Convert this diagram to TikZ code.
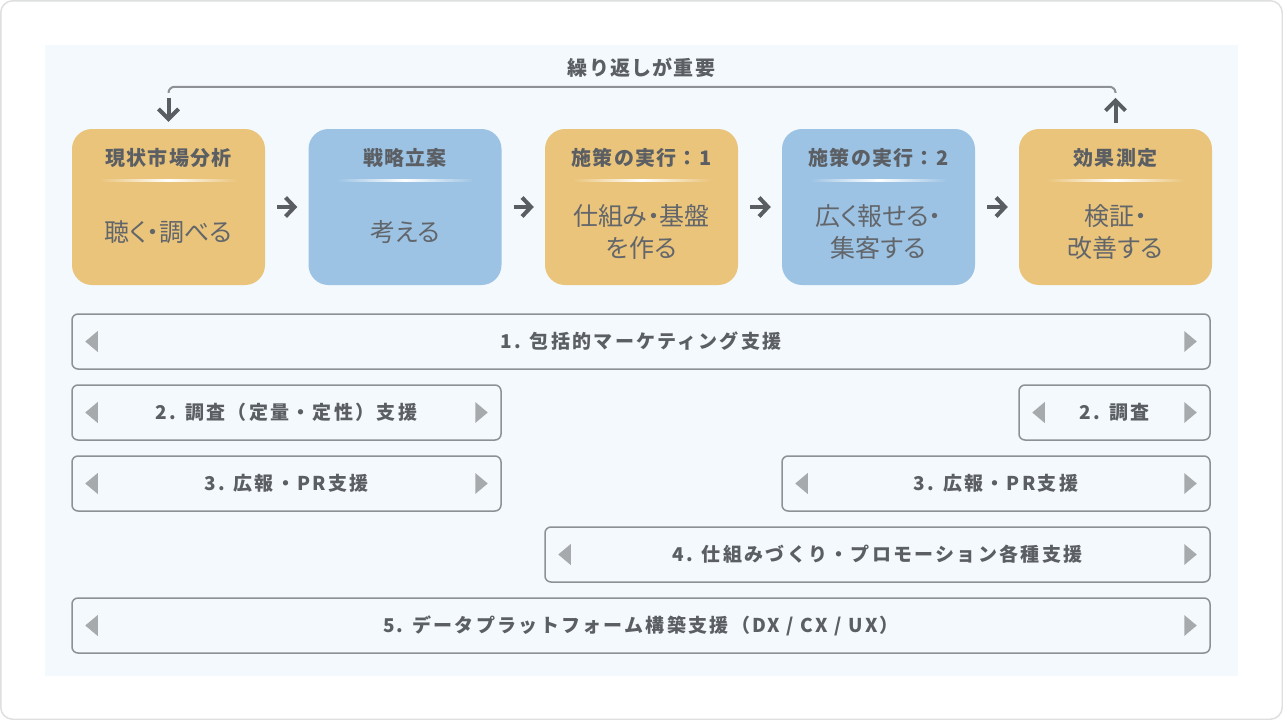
\documentclass[tikz,border=0pt]{standalone}
\usepackage{fontspec}
\setmainfont{Noto Sans CJK JP}
\newfontfamily\tfont[LetterSpace=6]{Noto Sans CJK JP}
\newfontfamily\bfont[LetterSpace=12]{Noto Sans CJK JP}
\newfontfamily\dfont[RawFeature=+palt]{Noto Sans CJK JP}
\usetikzlibrary{arrows.meta,calc}
\definecolor{panel}{HTML}{F4F9FD}
\definecolor{frame}{HTML}{DEDFE0}
\definecolor{org}{HTML}{EAC47B}
\definecolor{blu}{HTML}{9CC3E4}
\definecolor{txt}{HTML}{5B5F64}
\definecolor{dtxt}{HTML}{62666B}
\definecolor{barline}{HTML}{8D9195}
\definecolor{tri}{HTML}{A7AAAD}
\definecolor{arr}{HTML}{5A5E62}
\definecolor{loopline}{HTML}{8E9296}
\tikzset{
  stagebox/.style={rounded corners=20pt, minimum width=193pt, minimum height=156pt, inner sep=0pt, draw=none},
  stagetitle/.style={font=\tfont\bfseries\fontsize{20pt}{24pt}\selectfont, text=txt, inner sep=0pt},
  stagebody/.style={font=\dfont\fontsize{25pt}{32pt}\selectfont, text=dtxt, align=center, inner sep=0pt},
  barbox/.style={rounded corners=6pt, minimum height=55pt, inner sep=0pt, draw=barline, line width=1.5pt, fill=panel,
    font=\bfont\bfseries\fontsize{19pt}{22pt}\selectfont, text=txt},
  flow/.style={draw=arr, line width=4pt, -{Straight Barb[length=9pt,width=19pt,line width=4pt]}},
  looparr/.style={draw=arr, line width=4pt, -{Straight Barb[length=10pt,width=20pt,line width=4pt]}},
  loopline/.style={draw=loopline, line width=2pt, rounded corners=6pt},
  looplabel/.style={font=\tfont\bfseries\fontsize{20pt}{24pt}\selectfont, text=txt, inner sep=0pt}
}
\begin{document}
\begin{tikzpicture}[x=1pt,y=-1pt]
\useasboundingbox (0,0) rectangle (1283,720);
\draw[frame, line width=1.5pt, rounded corners=12pt, fill=white] (0.75,0.75) rectangle (1282.25,719.25);
\fill[panel] (45,45) rectangle (1238,676);

% stages
\foreach \n/\x/\c in {1/168.5/org, 2/405/blu, 3/641.5/org, 4/878.5/blu, 5/1115.5/org}{
  \node[stagebox, fill=\c] (b\n) at (\x,207) {};
  \shade[left color=\c, right color=\c, middle color=white]
     ($(b\n.north west)+(28,51)$) rectangle ($(b\n.north east)+(-28,53)$);
}
\node[stagetitle] (t1) at ($(b1.north)+(0,29)$) {現状市場分析};
\node[stagetitle] (t2) at ($(b2.north)+(0,29)$) {戦略立案};
\node[stagetitle] (t3) at ($(b3.north)+(0,29)$) {施策の実行：1};
\node[stagetitle] (t4) at ($(b4.north)+(0,29)$) {施策の実行：2};
\node[stagetitle] (t5) at ($(b5.north)+(0,29)$) {効果測定};
\node[stagebody] (d1) at ($(b1.center)+(0,25)$) {聴く・調べる};
\node[stagebody] (d2) at ($(b2.center)+(0,25)$) {考える};
\node[stagebody] (d3) at ($(b3.center)+(0,25)$) {仕組み・基盤\\を作る};
\node[stagebody] (d4) at ($(b4.center)+(0,25)$) {広く報せる・\\集客する};
\node[stagebody] (d5) at ($(b5.center)+(0,25)$) {検証・\\改善する};

% flow arrows
\foreach \a/\b in {1/2,2/3,3/4,4/5}{
  \draw[flow, shorten <=12pt, shorten >=11pt] (b\a.east) -- (b\b.west);
}

% loop
\coordinate (ltop) at ([yshift=31pt]b1.north);
\coordinate (ltip) at ([yshift=7pt]b1.north);
\coordinate (rtop) at ([yshift=31pt]b5.north);
\coordinate (rbot) at ([yshift=6pt]b5.north);
\draw[loopline] ([yshift=37pt]b1.north) -- ([yshift=42pt]b1.north) -- ([yshift=42pt]b5.north) -- ([yshift=37pt]b5.north);
\draw[looparr] (ltop) -- (ltip);
\draw[looparr] (rbot) -- (rtop);
\node[looplabel] (lbl) at (641.5,68) {繰り返しが重要};

% bars
\node[barbox, minimum width=1138pt] (r1) at (641,341.5) {1. 包括的マーケティング支援};
\node[barbox, minimum width=429pt] (r2a) at (286.5,412.5) {2. 調査（定量・定性）支援};
\node[barbox, minimum width=191pt] (r2b) at (1114.5,412.5) {2. 調査};
\node[barbox, minimum width=429pt] (r3a) at (286.5,483.5) {3. 広報・PR支援};
\node[barbox, minimum width=428pt] (r3b) at (996,483.5) {3. 広報・PR支援};
\node[barbox, minimum width=665pt] (r4) at (877.5,554.5) {4. 仕組みづくり・プロモーション各種支援};
\node[barbox, minimum width=1138pt] (r5) at (641,625.5) {5. データプラットフォーム構築支援（DX / CX / UX）};
\foreach \r in {r1,r2a,r2b,r3a,r3b,r4,r5}{
  \fill[tri] ($(\r.west)+(14,0)$) -- ($(\r.west)+(26.5,-10.5)$) -- ($(\r.west)+(26.5,10.5)$) -- cycle;
  \fill[tri] ($(\r.east)+(-14,0)$) -- ($(\r.east)+(-26.5,-10.5)$) -- ($(\r.east)+(-26.5,10.5)$) -- cycle;
}
\end{tikzpicture}
\end{document}
